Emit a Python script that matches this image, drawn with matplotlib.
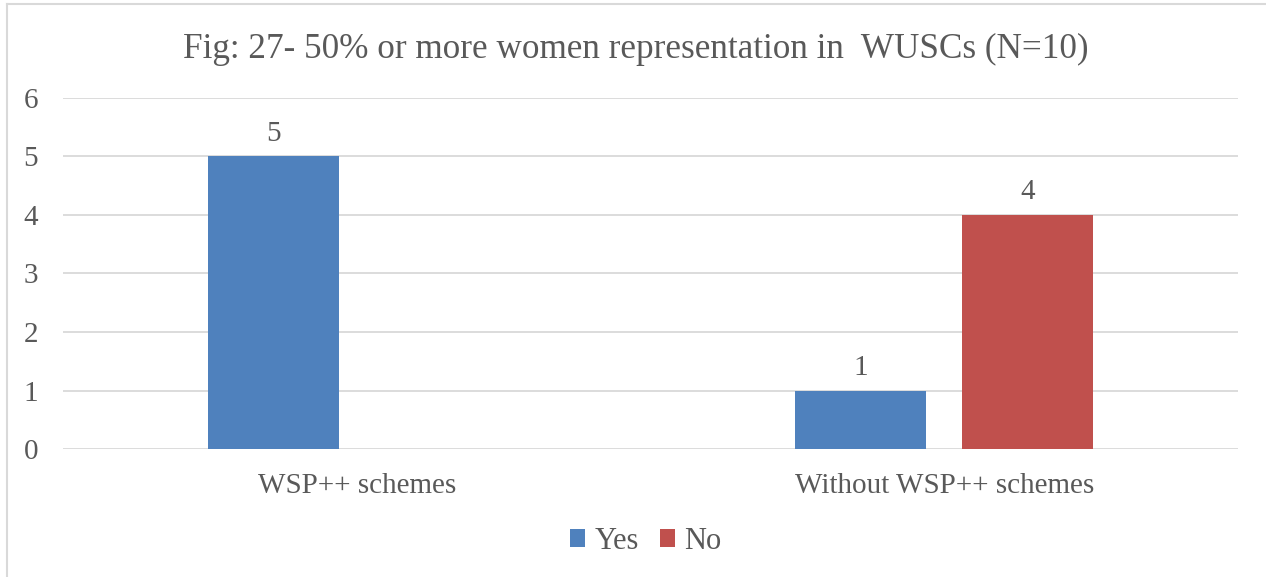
import matplotlib
matplotlib.use("Agg")
import matplotlib.pyplot as plt
from matplotlib.lines import Line2D
import numpy as np

# data
categories = ["WSP++ schemes", "Without WSP++ schemes"]
yes_vals = [5, 1]
no_vals = [0, 4]
series_names = ["Yes", "No"]
title = "Fig: 27- 50% or more women representation in  WUSCs (N=10)"

plt.rcParams['font.family'] = ['Liberation Serif', 'DejaVu Serif']
txt = '#595959'
blue = '#4F81BD'
red = '#C0504D'

fig = plt.figure(figsize=(12.66, 5.77), dpi=100)
ax = fig.add_axes([0.0498, 0.2218, 0.9281, 0.6084])

x = np.arange(len(categories))
w = 0.223
off = 0.142
b1 = ax.bar(x - off, yes_vals, w, color=blue, label=series_names[0])
b2 = ax.bar(x + off, no_vals, w, color=red, label=series_names[1])

for bars, vals in ((b1, yes_vals), (b2, no_vals)):
    for r, v in zip(bars, vals):
        if v > 0:
            ax.annotate(str(v), (r.get_x() + r.get_width() / 2, v),
                        xytext=(0, 11.5), textcoords='offset points',
                        ha='center', va='baseline', fontsize=21, color=txt)

ax.set_xlim(-0.5, 1.5)
ax.set_ylim(0, 6)
ax.set_yticks(range(0, 7))
ax.set_xticks(x)
ax.set_xticklabels(categories)
ax.yaxis.grid(True, color='#D9D9D9', linewidth=1.3)
ax.set_axisbelow(True)
for s in ax.spines.values():
    s.set_visible(False)
ax.tick_params(axis='y', length=0, pad=18, labelsize=21, labelcolor=txt)
ax.tick_params(axis='x', length=0, pad=17, labelsize=21, labelcolor=txt)

fig.text(0.502, 0.915, title, ha='center', va='center', fontsize=25.3, color=txt)

fig.legend(handles=[b1, b2], labels=series_names, loc='center',
           bbox_to_anchor=(0.510, 0.062), ncol=2, frameon=False,
           fontsize=22, labelcolor=txt, handlelength=0.5, handleheight=0.5,
           handletextpad=0.3, columnspacing=0.7)

# chart area border (left and top edges visible)
fig.add_artist(Line2D([7 / 1266, 7 / 1266], [0, 1 - 4 / 577], transform=fig.transFigure,
                      color='#D9D9D9', linewidth=1.5))
fig.add_artist(Line2D([7 / 1266, 1], [1 - 4 / 577, 1 - 4 / 577], transform=fig.transFigure,
                      color='#D9D9D9', linewidth=1.5))

fig.savefig("out.png", dpi=100)
